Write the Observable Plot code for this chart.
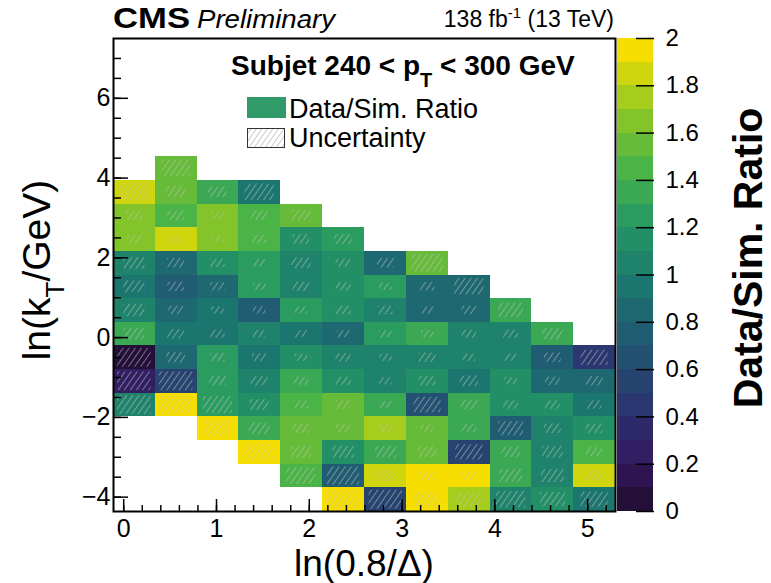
<!DOCTYPE html>
<html><head><meta charset="utf-8">
<script src="https://cdn.jsdelivr.net/npm/d3@7"></script>
<script src="https://cdn.jsdelivr.net/npm/@observablehq/plot@0.6"></script>
<style>
body{margin:0;background:#fff;}
#wrap{position:relative;width:771px;height:583px;font-family:"Liberation Sans",Arial,sans-serif;}
#wrap > svg{position:absolute;left:0;top:0;}
</style></head><body>
<svg width="0" height="0" style="position:absolute">
<defs>
<pattern id="hatch" patternUnits="userSpaceOnUse" width="5" height="5" patternTransform="rotate(35)">
<line x1="0" y1="-1" x2="0" y2="6" stroke="#c2c2c2" stroke-opacity="0.9" stroke-width="1.2"/>
</pattern>
<pattern id="hatchLeg" patternUnits="userSpaceOnUse" width="4.5" height="4.5" patternTransform="rotate(35)">
<rect x="-1" y="-1" width="7" height="7" fill="#fff"/>
<line x1="0" y1="-1" x2="0" y2="6" stroke="#9a9a9a" stroke-width="1"/>
</pattern>
</defs></svg>
<div id="wrap"></div>
<script>
// bin edges
const xEdges = [-0.11, 0.34, 0.79, 1.24, 1.69, 2.14, 2.60, 3.05, 3.50, 3.95, 4.40, 4.85, 5.30];
const yEdges = [-4.36, -3.77, -3.17, -2.58, -1.99, -1.39, -0.80, -0.21, 0.38, 0.98, 1.57, 2.16, 2.76, 3.35, 3.94, 4.54];

// Data/Sim ratio, rows from bottom (row 0) to top (row 14), 12 columns each
const _ = null;
const ratioRows = [
  [_, _, _, _, _, 1.95, 0.55, 1.95, 1.75, 1.05, 1.15, 0.95],
  [_, _, _, _, 1.45, 0.75, 1.85, 1.95, 1.95, 1.35, 1.05, 1.85],
  [_, _, _, 1.95, 1.55, 1.15, 1.35, 1.55, 0.55, 1.35, 1.05, 1.45],
  [_, _, 1.95, 1.35, 1.55, 1.55, 1.75, 1.55, 1.35, 0.75, 1.05, 1.15],
  [1.05, 1.95, 1.25, 1.15, 1.45, 1.55, 1.35, 0.65, 1.35, 1.15, 1.15, 0.95],
  [0.25, 0.55, 1.25, 1.05, 1.35, 1.15, 1.05, 1.15, 0.95, 1.15, 0.85, 0.85],
  [0.05, 0.85, 1.25, 0.95, 1.15, 1.05, 1.05, 1.05, 1.05, 1.05, 0.75, 0.45],
  [1.35, 0.95, 0.95, 1.05, 0.95, 0.85, 1.25, 1.35, 1.05, 1.05, 1.35, _],
  [1.05, 0.85, 0.95, 0.75, 1.25, 1.15, 1.05, 0.85, 0.85, 1.35, _, _],
  [0.95, 0.75, 0.85, 1.25, 1.05, 1.15, 1.25, 0.85, 0.85, _, _, _],
  [1.05, 0.85, 1.15, 1.25, 1.05, 1.15, 0.85, 1.55, _, _, _, _],
  [1.65, 1.85, 1.65, 1.45, 1.15, 1.25, _, _, _, _, _, _],
  [1.65, 1.45, 1.65, 1.45, 1.55, _, _, _, _, _, _, _],
  [1.85, 1.55, 1.35, 0.95, _, _, _, _, _, _, _, _],
  [_, 1.55, _, _, _, _, _, _, _, _, _, _]
];
// relative size of the uncertainty (hatched) box in each cell
const uncRows = [
  [_, _, _, _, _, 0.8, 0.8, 0.6, 0.6, 0.7, 0.6, 0.65],
  [_, _, _, _, 0.7, 0.75, 0.45, 0.4, 0.35, 0.55, 0.55, 0.4],
  [_, _, _, 0.7, 0.5, 0.5, 0.5, 0.45, 0.65, 0.45, 0.5, 0.4],
  [_, _, 0.7, 0.5, 0.4, 0.35, 0.35, 0.3, 0.35, 0.6, 0.4, 0.4],
  [0.8, 0.8, 0.7, 0.45, 0.35, 0.35, 0.3, 0.65, 0.4, 0.35, 0.35, 0.35],
  [0.8, 0.8, 0.4, 0.4, 0.35, 0.35, 0.3, 0.4, 0.45, 0.3, 0.35, 0.4],
  [0.8, 0.45, 0.35, 0.35, 0.3, 0.35, 0.3, 0.4, 0.3, 0.3, 0.4, 0.65],
  [0.5, 0.4, 0.35, 0.3, 0.3, 0.3, 0.3, 0.3, 0.35, 0.35, 0.5, _],
  [0.5, 0.35, 0.3, 0.3, 0.3, 0.35, 0.35, 0.3, 0.35, 0.6, _, _],
  [0.5, 0.4, 0.35, 0.3, 0.4, 0.35, 0.3, 0.35, 0.7, _, _, _],
  [0.5, 0.4, 0.35, 0.3, 0.45, 0.35, 0.4, 0.75, _, _, _, _],
  [0.35, 0.3, 0.25, 0.35, 0.4, 0.4, _, _, _, _, _, _],
  [0.4, 0.4, 0.3, 0.4, 0.45, _, _, _, _, _, _, _],
  [0.75, 0.45, 0.45, 0.7, _, _, _, _, _, _, _, _],
  [_, 0.7, _, _, _, _, _, _, _, _, _, _]
];

const xMajorTicks = [0, 1, 2, 3, 4, 5];
const xMinorTicks = [0, 0.2, 0.4, 0.6, 0.8, 1, 1.2, 1.4, 1.6, 1.8, 2, 2.2, 2.4, 2.6, 2.8, 3, 3.2, 3.4, 3.6, 3.8, 4, 4.2, 4.4, 4.6, 4.8, 5, 5.2];
const yMajorTicks = [-4, -2, 0, 2, 4, 6];
const yMinorTicks = [-4, -3.5, -3, -2.5, -2, -1.5, -1, -0.5, 0, 0.5, 1, 1.5, 2, 2.5, 3, 3.5, 4, 4.5, 5, 5.5, 6, 6.5, 7];
const colorLevels = [0, 0.1, 0.2, 0.3, 0.4, 0.5, 0.6, 0.7, 0.8, 0.9, 1.0, 1.1, 1.2, 1.3, 1.4, 1.5, 1.6, 1.7, 1.8, 1.9];
const colorTicks = [0, 0.2, 0.4, 0.6, 0.8, 1, 1.2, 1.4, 1.6, 1.8, 2];

// ROOT kViridis palette stops
const viridisStops = ["rgb(26,9,30)", "rgb(51,24,96)", "rgb(43,55,112)", "rgb(33,87,114)", "rgb(28,118,112)",
  "rgb(35,150,101)", "rgb(74,180,72)", "rgb(144,200,35)", "rgb(246,222,0)"];
const interp = d3.piecewise(d3.interpolateRgb, viridisStops);
const palette = colorLevels.map((_, i) => interp(Math.floor((i + 0.99) * 255 / 20) / 254));
const colorScale = {type: "threshold", domain: colorLevels.slice(1), range: palette};

const cells = [];
ratioRows.forEach((row, j) => row.forEach((v, i) => {
  if (v == null) return;
  cells.push({x1: xEdges[i], x2: xEdges[i + 1], y1: yEdges[j], y2: yEdges[j + 1], ratio: v, unc: uncRows[j][i]});
}));

const fmtMinus = d => d < 0 ? "\u2212" + Math.abs(d) : String(d);
const font = "Liberation Sans, Arial, Helvetica, sans-serif";

const main = Plot.plot({
  width: 771, height: 583,
  marginLeft: 113, marginRight: 156, marginTop: 38, marginBottom: 72,
  x: {domain: [xEdges[0], xEdges[xEdges.length - 1]]},
  y: {domain: [yEdges[0], 7.5]},
  color: colorScale,
  style: {fontFamily: font, color: "black", background: "white"},
  marks: [
    Plot.rect(cells, {x1: "x1", x2: "x2", y1: "y1", y2: "y2", fill: "ratio", shapeRendering: "crispEdges"}),
    Plot.rect(cells, {
      x1: d => (d.x1 + d.x2) / 2 - d.unc * (d.x2 - d.x1) / 2,
      x2: d => (d.x1 + d.x2) / 2 + d.unc * (d.x2 - d.x1) / 2,
      y1: d => (d.y1 + d.y2) / 2 - d.unc * (d.y2 - d.y1) / 2,
      y2: d => (d.y1 + d.y2) / 2 + d.unc * (d.y2 - d.y1) / 2,
      fill: "url(#hatch)"
    }),
    Plot.axisX(xMinorTicks, {anchor: "bottom", tickSize: -6, tickFormat: () => "", label: null, strokeWidth: 1.5}),
    Plot.axisX(xMajorTicks, {anchor: "bottom", tickSize: -12, tickPadding: 20, fontSize: 25, tickFormat: fmtMinus, label: null, strokeWidth: 1.5}),
    Plot.axisY(yMinorTicks, {anchor: "left", tickSize: -8, tickFormat: () => "", label: null, strokeWidth: 1.5}),
    Plot.axisY(yMajorTicks, {anchor: "left", tickSize: -15, tickPadding: 18, fontSize: 25, tickFormat: fmtMinus, label: null, strokeWidth: 1.5}),
    Plot.frame({stroke: "black", strokeWidth: 2})
  ]
});

const bar = Plot.plot({
  width: 771, height: 583,
  marginLeft: 617, marginRight: 118, marginTop: 38, marginBottom: 72,
  x: {domain: [0, 1], axis: null},
  y: {domain: [0, 2]},
  color: colorScale,
  style: {fontFamily: font, color: "black", background: "transparent"},
  marks: [
    Plot.rect(colorLevels, {x1: 0, x2: 1, y1: d => d, y2: d => d + 0.1, fill: d => d + 0.05, shapeRendering: "crispEdges"}),
    Plot.axisY(colorTicks, {anchor: "right", tickSize: -18, tickPadding: 30, fontSize: 24, textAnchor: "start", tickFormat: d => String(+d.toFixed(1)), label: null, strokeWidth: 1.5})
  ]
});

const wrap = document.getElementById("wrap");
wrap.appendChild(main);
wrap.appendChild(bar);

// annotations
const svg = d3.select(main);
const g = svg.append("g").attr("font-family", font).attr("fill", "black").attr("text-anchor", "start");

// header
g.append("text").attr("x", 113).attr("y", 28).attr("font-size", 30).attr("font-weight", "bold")
  .attr("textLength", 77).attr("lengthAdjust", "spacingAndGlyphs").text("CMS");
g.append("text").attr("x", 197).attr("y", 28).attr("font-size", 26).attr("font-style", "italic")
  .attr("textLength", 138).attr("lengthAdjust", "spacingAndGlyphs").text("Preliminary");
const lumi = g.append("text").attr("x", 614).attr("y", 27).attr("font-size", 23).attr("text-anchor", "end");
lumi.append("tspan").text("138 fb");
lumi.append("tspan").attr("font-size", 15).attr("dy", -9).text("-1");
lumi.append("tspan").attr("dy", 9).text(" (13 TeV)");

// in-frame label
const sub = g.append("text").attr("x", 231).attr("y", 75).attr("font-size", 28).attr("font-weight", "bold");
sub.append("tspan").text("Subjet 240 < p");
sub.append("tspan").attr("font-size", 20).attr("dy", 12).text("T");
sub.append("tspan").attr("dy", -12).text(" < 300 GeV");

// legend
g.append("rect").attr("x", 247).attr("y", 97).attr("width", 39).attr("height", 21).attr("fill", "#309a68");
g.append("text").attr("x", 289).attr("y", 118).attr("font-size", 27).text("Data/Sim. Ratio");
g.append("rect").attr("x", 247.5).attr("y", 128.5).attr("width", 37).attr("height", 19)
  .attr("fill", "url(#hatchLeg)").attr("stroke", "#333").attr("stroke-width", 1);
g.append("text").attr("x", 289).attr("y", 147).attr("font-size", 27).text("Uncertainty");

// axis titles
g.append("text").attr("x", 364).attr("y", 576).attr("font-size", 37).attr("text-anchor", "middle").text("ln(0.8/\u0394)");
const yt = g.append("text").attr("transform", "translate(50,270) rotate(-90)").attr("font-size", 39).attr("text-anchor", "middle");
yt.append("tspan").text("ln(k");
yt.append("tspan").attr("font-size", 26).attr("dy", 14).text("T");
yt.append("tspan").attr("dy", -14).text("/GeV)");

// colour bar title
d3.select(bar).append("text").attr("transform", "translate(762,258) rotate(-90)")
  .attr("font-family", font).attr("font-size", 41).attr("font-weight", "bold").attr("text-anchor", "middle")
  .text("Data/Sim. Ratio");
</script>
</body></html>
